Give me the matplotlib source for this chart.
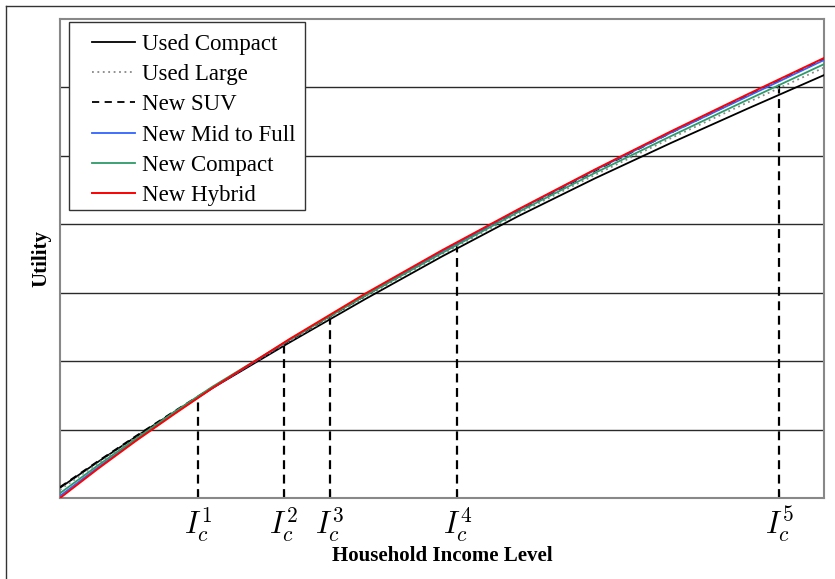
import numpy as np
import matplotlib
matplotlib.use("Agg")
import matplotlib.pyplot as plt
from matplotlib.patches import Rectangle
from matplotlib.lines import Line2D

plt.rcParams['font.family'] = ['Liberation Serif', 'DejaVu Serif']
plt.rcParams['mathtext.fontset'] = 'cm'

# ---- data ----
income = [0, 5, 10, 15, 20, 30, 40, 50, 60, 70, 80, 90, 100]
used_compact = [0.15, 0.53, 0.90, 1.26, 1.61, 2.27, 2.91, 3.53, 4.12, 4.67, 5.19, 5.69, 6.18]
used_large   = [0.12, 0.51, 0.89, 1.26, 1.62, 2.29, 2.94, 3.56, 4.16, 4.72, 5.26, 5.78, 6.29]
new_suv      = [0.16, 0.54, 0.91, 1.27, 1.62, 2.30, 2.96, 3.59, 4.20, 4.78, 5.34, 5.88, 6.41]
new_mid_full = [0.03, 0.45, 0.85, 1.24, 1.61, 2.31, 2.97, 3.60, 4.21, 4.79, 5.34, 5.87, 6.40]
new_compact  = [0.07, 0.48, 0.87, 1.26, 1.63, 2.31, 2.96, 3.58, 4.18, 4.75, 5.29, 5.82, 6.34]
new_hybrid   = [0.00, 0.43, 0.84, 1.23, 1.61, 2.32, 2.99, 3.62, 4.22, 4.80, 5.36, 5.90, 6.43]

series_names = ["Used Compact", "Used Large", "New SUV", "New Mid to Full",
                "New Compact", "New Hybrid"]

ic_x = [18.1, 29.3, 35.3, 52.0, 94.1]
ic_labels = [r"$I_c^1$", r"$I_c^2$", r"$I_c^3$", r"$I_c^4$", r"$I_c^5$"]
grid_y = [1, 2, 3, 4, 5, 6]

# ---- figure ----
fig = plt.figure(figsize=(8.35, 5.79), dpi=100)
ax = fig.add_axes([60/835, 81/579, 764/835, 479/579])

# outer figure frame (left/top)
fig.add_artist(Line2D([6/835, 6/835], [0, 1 - 6/579], transform=fig.transFigure,
                      color='#333333', lw=1.0))
fig.add_artist(Line2D([6/835, 1], [1 - 6/579, 1 - 6/579], transform=fig.transFigure,
                      color='#333333', lw=1.0))

for g in grid_y:
    ax.axhline(g, color='#2a2a2a', lw=1.0, zorder=1)

styles = [
    dict(color='black', lw=1.3, ls='-'),
    dict(color='#888888', lw=1.3, ls=(0, (1, 2))),
    dict(color='black', lw=1.3, ls=(0, (4, 3))),
    dict(color='#2f63ff', lw=1.3, ls='-'),
    dict(color='#2e9a68', lw=1.3, ls='-'),
    dict(color='#ff0000', lw=1.4, ls='-'),
]
data = [used_compact, used_large, new_suv, new_mid_full, new_compact, new_hybrid]
handles = []
for name, vals, st in zip(series_names, data, styles):
    h, = ax.plot(income, vals, label=name, zorder=3, **st)
    handles.append(h)

upper = np.max(np.array(data), axis=0)
for xv in ic_x:
    top = np.interp(xv, income, upper)
    ax.plot([xv, xv], [0, top], color='black', lw=1.6, ls=(0, (4, 2.5)), zorder=2)

ax.set_xlim(0, 100)
ax.set_ylim(0, 7)
ax.set_xticks(ic_x)
ax.set_xticklabels(ic_labels, fontsize=22)
ax.set_yticks([])
ax.tick_params(axis='x', direction='in', length=5, pad=5)
for sp in ax.spines.values():
    sp.set_color('#888888')
    sp.set_linewidth(1.5)

ax.set_xlabel("Household Income Level", fontsize=15, fontweight='bold', labelpad=1)
ax.set_ylabel("Utility", fontsize=15, fontweight='bold', labelpad=6)

leg = ax.legend(handles=handles, loc='upper left',
                bbox_to_anchor=((92-60)/764, (498-34)/479),
                frameon=False, fontsize=16.5, borderpad=0, borderaxespad=0,
                handlelength=1.88, handletextpad=0.3, labelspacing=0.40)
ax.add_patch(Rectangle(((69-60)/764, (498-210)/479), (305-69)/764, (210-22)/479,
                       transform=ax.transAxes, fill=True, facecolor='white',
                       edgecolor='#333333', lw=1.0, zorder=4))
leg.set_zorder(5)

fig.savefig("out.png", dpi=100)
